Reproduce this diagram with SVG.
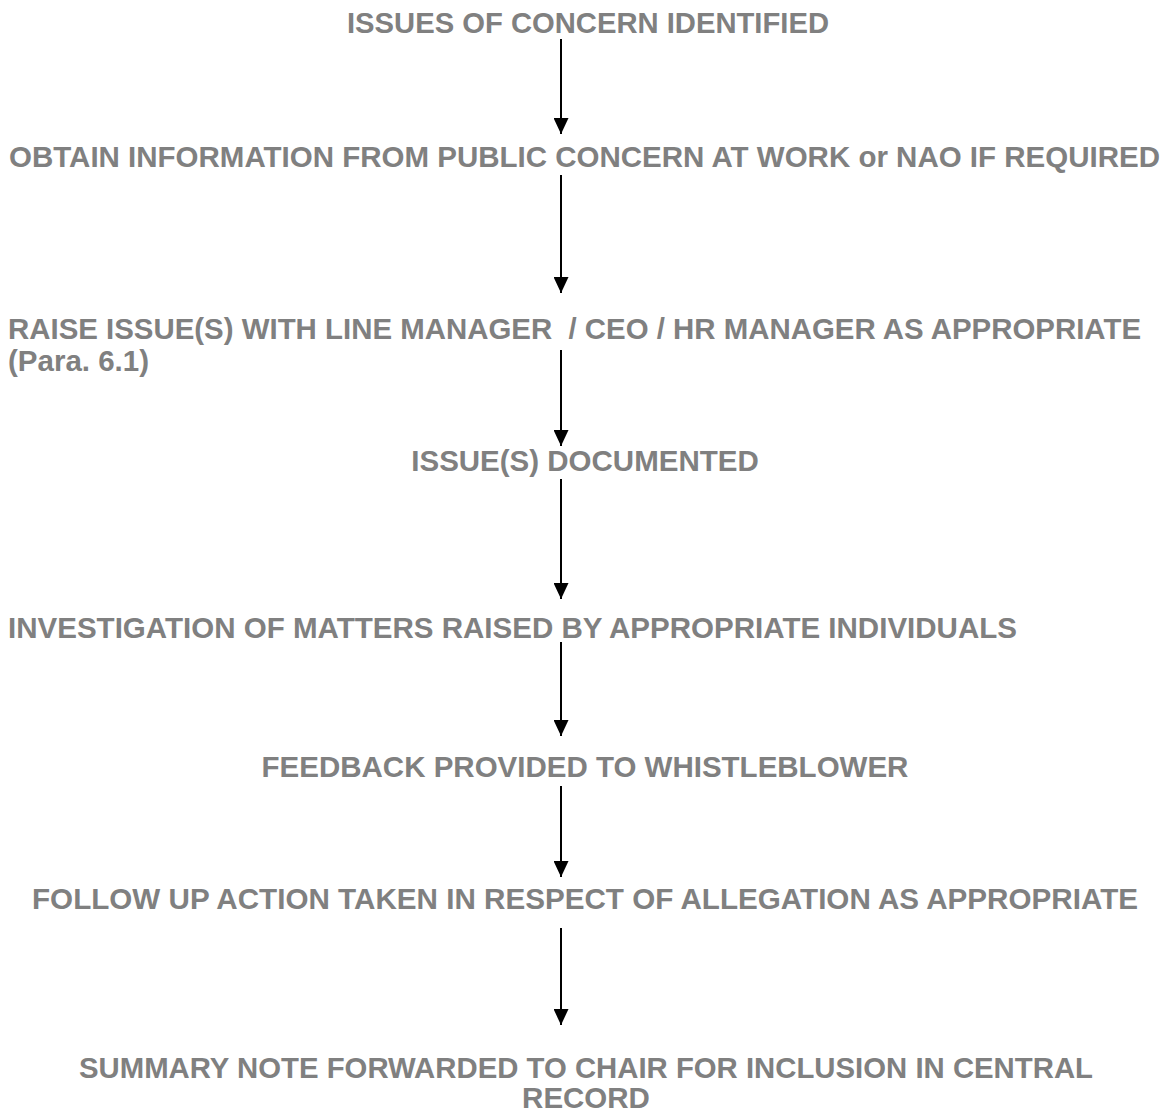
<svg xmlns="http://www.w3.org/2000/svg" width="1166" height="1113" viewBox="0 0 1166 1113">
<style>
.t{font-family:"Liberation Sans",Arial,sans-serif;font-weight:bold;font-size:29.5px;fill:#808080}
.c{text-anchor:middle}
.a{stroke:#000;stroke-width:2;fill:none}
</style>
<defs>
<marker id="ad" markerWidth="15" markerHeight="16" viewBox="0 0 15 16" refX="7.5" refY="16" orient="0" markerUnits="userSpaceOnUse">
<path d="M0,0 L15,0 L7.5,16 Z" fill="#000"/>
</marker>
</defs>
<rect width="1166" height="1113" fill="#fff"/>
<g id="connectors">
<line class="a" x1="561" y1="39" x2="561" y2="134" marker-end="url(#ad)"/>
<line class="a" x1="561" y1="175" x2="561" y2="293" marker-end="url(#ad)"/>
<line class="a" x1="561" y1="350" x2="561" y2="446" marker-end="url(#ad)"/>
<line class="a" x1="561" y1="479" x2="561" y2="599" marker-end="url(#ad)"/>
<line class="a" x1="561" y1="642" x2="561" y2="736" marker-end="url(#ad)"/>
<line class="a" x1="561" y1="786" x2="561" y2="877" marker-end="url(#ad)"/>
<line class="a" x1="561" y1="928" x2="561" y2="1025" marker-end="url(#ad)"/>
</g>
<g id="n1"><text class="t c" x="588" y="33" textLength="482" lengthAdjust="spacingAndGlyphs">ISSUES OF CONCERN IDENTIFIED</text></g>
<g id="n2"><text class="t" x="9" y="167" textLength="1151" lengthAdjust="spacingAndGlyphs">OBTAIN INFORMATION FROM PUBLIC CONCERN AT WORK or NAO IF REQUIRED</text></g>
<g id="n3"><text class="t" x="8" y="339" textLength="1133" lengthAdjust="spacingAndGlyphs" xml:space="preserve">RAISE ISSUE(S) WITH LINE MANAGER  / CEO / HR MANAGER AS APPROPRIATE</text><text class="t" x="8" y="371">(Para. 6.1)</text></g>
<g id="n4"><text class="t c" x="585" y="471">ISSUE(S) DOCUMENTED</text></g>
<g id="n5"><text class="t" x="8" y="638" textLength="1009" lengthAdjust="spacingAndGlyphs">INVESTIGATION OF MATTERS RAISED BY APPROPRIATE INDIVIDUALS</text></g>
<g id="n6"><text class="t c" x="585" y="777">FEEDBACK PROVIDED TO WHISTLEBLOWER</text></g>
<g id="n7"><text class="t c" x="585" y="909" textLength="1106" lengthAdjust="spacingAndGlyphs">FOLLOW UP ACTION TAKEN IN RESPECT OF ALLEGATION AS APPROPRIATE</text></g>
<g id="n8"><text class="t c" x="586" y="1078" textLength="1014" lengthAdjust="spacingAndGlyphs">SUMMARY NOTE FORWARDED TO CHAIR FOR INCLUSION IN CENTRAL</text><text class="t c" x="586" y="1108">RECORD</text></g>
</svg>
